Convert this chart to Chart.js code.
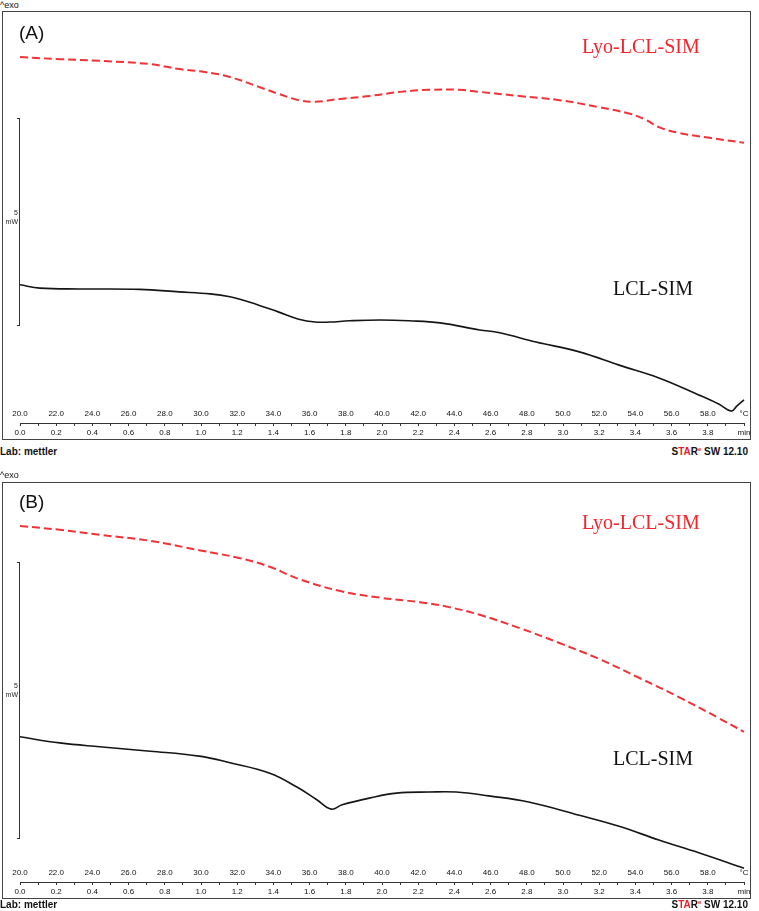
<!DOCTYPE html>
<html>
<head>
<meta charset="utf-8">
<script src="https://cdn.jsdelivr.net/npm/chart.js@4.4.0/dist/chart.umd.min.js"></script>
<style>
  body { margin: 0; background: #fff; width: 759px; height: 911px; position: relative; overflow: hidden; font-family: "Liberation Sans", Arial, sans-serif; }
  .abs { position: absolute; white-space: nowrap; }
  .frame { position: absolute; border: 1px solid #444; box-sizing: border-box; }
  .exo { font-size: 9px; color: #111; }
  .tag { font-size: 19px; color: #111; }
  .lbl { font-family: "Liberation Serif", "Times New Roman", serif; font-size: 20px; }
  .mw { font-size: 7px; color: #222; text-align: right; width: 16px; line-height: 9px; }
  .bar { position: absolute; left: 17px; width: 3px; border: 1px solid #333; border-left: none; box-sizing: border-box; }
  .foot { font-size: 10px; font-weight: bold; color: #111; }
  .red { color: #e8202a; }
  canvas { position: absolute; left: 0; }
</style>
</head>
<body>

<!-- panel A -->
<div class="abs exo" style="left:0;top:0;">^exo</div>
<div class="frame" style="left:2px;top:11px;width:749px;height:429px;"></div>
<canvas id="chartA" width="759" height="432" style="top:11px;"></canvas>
<div class="abs tag" style="left:19px;top:22px;">(A)</div>
<div class="abs lbl" style="left:582px;top:35px;color:#f0262c;">Lyo-LCL-SIM</div>
<div class="abs lbl" style="left:613px;top:277px;color:#111;">LCL-SIM</div>
<div class="bar" style="top:118px;height:208px;"></div>
<div class="abs mw" style="left:2px;top:208px;">5<br>mW</div>
<div class="abs foot" style="left:0;top:446px;">Lab: mettler</div>
<div class="abs foot" style="right:11px;top:446px;">S<span class="red">TA</span>R<sup class="red" style="font-size:6px;">e</sup> SW 12.10</div>

<!-- panel B -->
<div class="abs exo" style="left:0;top:470px;">^exo</div>
<div class="frame" style="left:2px;top:482px;width:749px;height:417px;"></div>
<canvas id="chartB" width="759" height="420" style="top:482px;"></canvas>
<div class="abs tag" style="left:19px;top:491px;">(B)</div>
<div class="abs lbl" style="left:582px;top:511px;color:#f0262c;">Lyo-LCL-SIM</div>
<div class="abs lbl" style="left:613px;top:747px;color:#111;">LCL-SIM</div>
<div class="bar" style="top:562px;height:277px;"></div>
<div class="abs mw" style="left:2px;top:681px;">5<br>mW</div>
<div class="abs foot" style="left:0;top:899px;">Lab: mettler</div>
<div class="abs foot" style="right:11px;top:899px;">S<span class="red">TA</span>R<sup class="red" style="font-size:6px;">e</sup> SW 12.10</div>

<script>
// (A) heat flow, mW (relative), vs temperature in °C
var tempA_lyo = [20.0, 22.2, 24.4, 27.2, 28.8, 30.2, 31.6, 33.2, 34.3, 35.4, 36.2, 37.7, 39.3, 41.0, 42.6, 44.3, 45.4, 47.6, 49.8, 52.0, 53.7, 54.5, 55.3, 56.4, 58.1, 60.0];
var heatA_lyo = [8.50, 8.45, 8.41, 8.33, 8.21, 8.14, 8.02, 7.78, 7.61, 7.46, 7.42, 7.49, 7.56, 7.66, 7.71, 7.71, 7.66, 7.56, 7.46, 7.29, 7.13, 7.00, 6.81, 6.67, 6.55, 6.43];
var tempA_lcl = [20.0, 21.1, 23.3, 26.6, 28.8, 30.5, 31.6, 32.7, 34.3, 35.4, 36.3, 37.1, 38.2, 39.9, 41.5, 43.2, 45.4, 46.5, 48.5, 50.9, 53.1, 55.3, 57.5, 58.6, 59.3, 59.6, 60.0];
var heatA_lcl = [3.00, 2.92, 2.90, 2.89, 2.83, 2.78, 2.71, 2.58, 2.34, 2.17, 2.10, 2.10, 2.13, 2.15, 2.13, 2.08, 1.91, 1.84, 1.62, 1.38, 1.06, 0.75, 0.34, 0.12, -0.05, 0.07, 0.22];

// (B)
var tempB_lyo = [20.0, 22.2, 24.4, 27.2, 29.9, 32.1, 33.8, 35.4, 37.7, 39.9, 42.1, 43.7, 45.4, 47.6, 49.8, 52.0, 54.2, 56.4, 58.6, 60.0];
var heatB_lyo = [6.16, 6.09, 6.00, 5.89, 5.72, 5.58, 5.42, 5.20, 4.98, 4.86, 4.78, 4.69, 4.55, 4.31, 4.04, 3.75, 3.41, 3.06, 2.68, 2.43];
var tempB_lcl = [20.0, 22.2, 24.4, 27.2, 29.9, 31.6, 33.8, 35.3, 36.4, 37.2, 37.8, 39.3, 40.8, 42.6, 44.1, 45.9, 48.1, 50.9, 53.1, 55.3, 57.5, 60.0];
var heatB_lcl = [2.34, 2.23, 2.16, 2.08, 1.99, 1.87, 1.68, 1.43, 1.20, 1.03, 1.11, 1.23, 1.32, 1.34, 1.34, 1.27, 1.16, 0.92, 0.72, 0.47, 0.24, -0.04];

// axis ranges: °C on top row, min on bottom row (10 K/min)
var tempRange = [20, 60];
var timeRange = [0, 4];

function pts(xs, ys) {
    return xs.map(function (x, i) { return { x: x, y: ys[i] }; });
}

function makeChart(id, lyoX, lyoY, lclX, lclY, yMin, yMax) {
    var ctx = document.getElementById(id).getContext("2d");
    return new Chart(ctx, {
        type: "line",
        data: {
            datasets: [
                {
                    label: "Lyo-LCL-SIM",
                    data: pts(lyoX, lyoY),
                    borderColor: "rgb(240, 50, 55)",
                    borderWidth: 2,
                    borderDash: [8, 4],
                    pointRadius: 0,
                    tension: 0.4,
                    clip: false,
                    xAxisID: "x"
                },
                {
                    label: "LCL-SIM",
                    data: pts(lclX, lclY),
                    borderColor: "#151515",
                    borderWidth: 1.6,
                    pointRadius: 0,
                    tension: 0.4,
                    clip: false,
                    xAxisID: "x"
                }
            ]
        },
        options: {
            responsive: false,
            animation: false,
            layout: { padding: { left: 20, right: 15, top: 3, bottom: 3.4 } },
            plugins: { legend: { display: false }, tooltip: { enabled: false } },
            scales: {
                x: {
                    type: "linear",
                    position: "bottom",
                    weight: 0,
                    min: tempRange[0],
                    max: tempRange[1],
                    grid: { display: false, drawTicks: false },
                    border: { display: false },
                    ticks: {
                        stepSize: 2,
                        autoSkip: false,
                        maxRotation: 0,
                        padding: 4,
                        color: "#111",
                        font: { family: "Liberation Sans", size: 8 },
                        callback: function (v) { return v === tempRange[1] ? "°C" : v.toFixed(1); }
                    }
                },
                t: {
                    type: "linear",
                    position: "bottom",
                    weight: 1,
                    min: timeRange[0],
                    max: timeRange[1],
                    grid: { drawOnChartArea: false, drawTicks: true, tickLength: 3, color: "#333" },
                    border: { display: true, color: "#333", width: 1 },
                    ticks: {
                        stepSize: 0.1,
                        autoSkip: false,
                        maxRotation: 0,
                        padding: 2,
                        color: "#111",
                        font: { family: "Liberation Sans", size: 8 },
                        callback: function (v, i, all) {
                            if (i === all.length - 1) return "min";
                            return i % 2 === 0 ? v.toFixed(1) : "";
                        }
                    }
                },
                y: { display: false, min: yMin, max: yMax }
            }
        }
    });
}

makeChart("chartA", tempA_lyo, heatA_lyo, tempA_lcl, heatA_lcl, 0.087, 9.541);
makeChart("chartB", tempB_lyo, heatB_lyo, tempB_lcl, heatB_lcl, 0.029, 6.902);
</script>
</body>
</html>
